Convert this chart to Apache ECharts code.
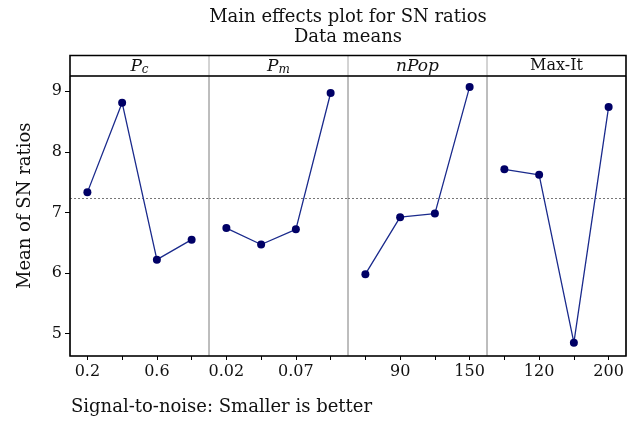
<!DOCTYPE html>
<html><head><meta charset="utf-8">
<script src="https://cdn.jsdelivr.net/npm/echarts@6/dist/echarts.min.js"></script>
<style>html,body{margin:0;padding:0;background:#fff}#c{width:639px;height:421px}</style>
</head><body><div id="c"></div>
<script>
// ---- data ----
const factorLabels = ['{i|P}{s|c}', '{i|P}{s|m}', '{i|nPop}', '{r|Max-It}'];
const levelCats = ['L1', 'L2', 'L3', 'L4'];
const pcTicks = ['0.2', '', '0.6', ''];
const pmTicks = ['0.02', '', '0.07', ''];
const nPopTicks = ['', '90', '', '150'];
const maxItTicks = ['', '120', '', '200'];
const pcSN = [7.33, 8.81, 6.22, 6.55];
const pmSN = [6.74, 6.47, 6.72, 8.97];
const nPopSN = [5.98, 6.92, 6.98, 9.07];
const maxItSN = [7.71, 7.62, 4.85, 8.74];
const yTicks = [5, 6, 7, 8, 9];
const titleLines = ['Main effects plot for SN ratios', 'Data means'];
const yName = 'Mean of SN ratios';
const footer = 'Signal-to-noise: Smaller is better';

// ---- layout ----
const FONT = 'DejaVu Serif';
const L = 70, R = 626, HT = 55.5, T = 76, B = 356;
const pw = (R - L) / 4;
const yMin = 4.63, yMax = 9.25;
const tickSets = [pcTicks, pmTicks, nPopTicks, maxItTicks];
const seriesSets = [pcSN, pmSN, nPopSN, maxItSN];
const all = [].concat(pcSN, pmSN, nPopSN, maxItSN);
const grandMean = all.reduce((a, b) => a + b, 0) / all.length;

const grids = [], xAxes = [], yAxes = [], series = [];
for (let i = 0; i < 4; i++) {
  grids.push({ left: L + i * pw, top: T, width: pw, height: B - T, show: true,
    borderColor: '#a8a8a8', borderWidth: 1, backgroundColor: 'transparent' });
  const ticks = tickSets[i];
  xAxes.push({ type: 'category', gridIndex: i, data: levelCats, boundaryGap: true,
    axisLine: { show: false },
    axisTick: { show: true, alignWithLabel: true, length: 4, lineStyle: { color: '#000', width: 1 } },
    axisLabel: { interval: 0, margin: 8, color: '#111', fontFamily: FONT, fontSize: 16,
      formatter: (v, idx) => ticks[idx] },
    splitLine: { show: false } });
  yAxes.push({ type: 'value', gridIndex: i, min: yMin, max: yMax,
    axisLine: { show: false },
    axisTick: { show: i === 0, length: 5, customValues: yTicks, lineStyle: { color: '#000' } },
    axisLabel: { show: i === 0, margin: 8, color: '#111', fontFamily: FONT, fontSize: 16,
      customValues: yTicks },
    splitLine: { show: false } });
  series.push({ type: 'line', xAxisIndex: i, yAxisIndex: i, data: seriesSets[i],
    symbol: 'circle', symbolSize: 8, showSymbol: true,
    itemStyle: { color: '#000066' },
    lineStyle: { color: '#1a2a8c', width: 1.3 },
    z: 5,
    markLine: { silent: true, symbol: 'none', label: { show: false },
      lineStyle: { type: [2, 2], color: '#777', width: 1 },
      data: [{ yAxis: grandMean }], z: 1 } });
}

const graphic = [];
graphic.push({ type: 'rect', z: 100, shape: { x: L, y: HT, width: R - L, height: B - HT },
  style: { fill: null, stroke: '#000', lineWidth: 1.6 } });
graphic.push({ type: 'line', z: 100, shape: { x1: L, y1: T, x2: R, y2: T },
  style: { stroke: '#000', lineWidth: 1.6 } });
for (let i = 1; i < 4; i++) {
  graphic.push({ type: 'line', z: 99, shape: { x1: L + i * pw, y1: HT, x2: L + i * pw, y2: T },
    style: { stroke: '#a8a8a8', lineWidth: 1 } });
}
const rich = {
  i: { fontFamily: FONT, fontStyle: 'italic', fontSize: 17, fill: '#111', color: '#111' },
  s: { fontFamily: FONT, fontStyle: 'italic', fontSize: 12, fill: '#111', color: '#111', padding: [7, 0, 0, 0] },
  r: { fontFamily: FONT, fontSize: 16, fill: '#111', color: '#111' }
};
for (let i = 0; i < 4; i++) {
  graphic.push({ type: 'text', z: 101, x: L + (i + 0.5) * pw, y: (HT + T) / 2 + 0.5,
    style: { text: factorLabels[i], rich: rich, align: 'center', verticalAlign: 'middle' } });
}
graphic.push({ type: 'text', x: (L + R) / 2, y: 17,
  style: { text: titleLines[0], fontFamily: FONT, fontSize: 18, fill: '#111', align: 'center', verticalAlign: 'middle' } });
graphic.push({ type: 'text', x: (L + R) / 2, y: 37,
  style: { text: titleLines[1], fontFamily: FONT, fontSize: 18, fill: '#111', align: 'center', verticalAlign: 'middle' } });
graphic.push({ type: 'text', x: 25, y: (HT + B) / 2, rotation: Math.PI / 2,
  style: { text: yName, fontFamily: FONT, fontSize: 18, fill: '#111', align: 'center', verticalAlign: 'middle' } });
graphic.push({ type: 'text', x: 71, y: 407,
  style: { text: footer, fontFamily: FONT, fontSize: 18, fill: '#111', align: 'left', verticalAlign: 'middle' } });

const chart = echarts.init(document.getElementById('c'), null, { renderer: 'canvas' });
chart.setOption({
  animation: false,
  backgroundColor: '#fff',
  grid: grids, xAxis: xAxes, yAxis: yAxes, series: series, graphic: graphic
});
</script></body></html>
